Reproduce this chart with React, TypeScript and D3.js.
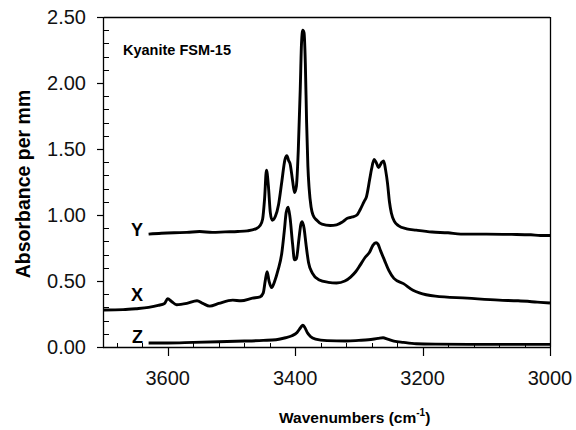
import React from "react";
import * as d3 from "d3";

const W = 576;
const H = 430;

// Wavenumbers (cm-1) and absorbance per mm for each polarization
const yWn = [3630,3610,3590,3570,3550,3530,3510,3490,3475,3462,3455,3451,3448,3445,3442,3439,3436,3431,3426,3421,3416,3413,3410,3408,3404,3401,3398,3395,3392,3390,3388,3386,3384,3382,3380,3378,3375,3372,3366,3358,3345,3335,3325,3318,3310,3303,3298,3292,3288,3283,3280,3276,3273,3269,3264,3261,3258,3255,3252,3249,3244,3238,3225,3210,3185,3160,3140,3100,3060,3030,3015,3000];
const yVal = [0.855,0.862,0.866,0.868,0.875,0.868,0.872,0.875,0.88,0.895,0.92,0.97,1.12,1.34,1.22,1.02,0.96,0.99,1.08,1.25,1.42,1.45,1.41,1.39,1.26,1.17,1.22,1.50,1.95,2.30,2.40,2.38,2.15,1.70,1.37,1.20,1.06,1.00,0.96,0.93,0.92,0.925,0.95,0.975,0.985,1.00,1.04,1.10,1.14,1.27,1.35,1.42,1.40,1.36,1.40,1.41,1.34,1.24,1.10,1.015,0.95,0.92,0.895,0.885,0.871,0.865,0.855,0.855,0.853,0.85,0.845,0.845];

const xWn = [3700,3670,3650,3630,3615,3605,3600,3594,3586,3570,3554,3545,3534,3520,3498,3485,3467,3455,3450,3447,3444,3441,3437,3432,3427,3421,3417,3414,3411,3408,3404,3401,3398,3394,3391,3389,3386,3383,3379,3373,3363,3348,3335,3322,3313,3305,3298,3290,3283,3278,3273,3270,3266,3260,3253,3245,3230,3215,3205,3180,3130,3080,3050,3020,3000];
const xVal = [0.28,0.283,0.29,0.30,0.315,0.33,0.365,0.345,0.32,0.33,0.35,0.33,0.31,0.33,0.355,0.35,0.37,0.38,0.41,0.50,0.57,0.50,0.45,0.50,0.58,0.71,0.88,1.02,1.06,0.98,0.78,0.66,0.67,0.82,0.93,0.95,0.90,0.78,0.64,0.56,0.51,0.49,0.485,0.50,0.53,0.57,0.62,0.68,0.72,0.77,0.79,0.78,0.73,0.66,0.58,0.52,0.48,0.43,0.41,0.385,0.37,0.355,0.35,0.34,0.333];

const zWn = [3630,3600,3560,3520,3480,3450,3430,3415,3405,3397,3391,3388,3385,3381,3376,3368,3350,3320,3300,3285,3270,3262,3255,3245,3230,3210,3180,3100,3050,3000];
const zVal = [0.03,0.03,0.035,0.04,0.045,0.05,0.055,0.07,0.085,0.11,0.15,0.165,0.15,0.11,0.08,0.06,0.048,0.045,0.05,0.055,0.065,0.07,0.06,0.045,0.035,0.025,0.022,0.02,0.02,0.02];

const seriesNames = ["Y", "X", "Z"];
const xTickValues = [3600, 3400, 3200, 3000];
const yTickValues = [0, 0.5, 1.0, 1.5, 2.0, 2.5];

export default function App() {
  const left = 104, right = 550, top = 17, bottom = 347;
  const x = d3.scaleLinear().domain([3700, 3000]).range([left, right]);
  const y = d3.scaleLinear().domain([0, 2.5]).range([bottom, top]);

  const line = d3
    .line<[number, number]>()
    .x((d) => x(d[0]))
    .y((d) => y(d[1]))
    .curve(d3.curveMonotoneX);

  const series = [
    { name: seriesNames[0], wn: yWn, val: yVal, lx: 143, ly: 236 },
    { name: seriesNames[1], wn: xWn, val: xVal, lx: 143, ly: 301 },
    { name: seriesNames[2], wn: zWn, val: zVal, lx: 143, ly: 343 },
  ];

  const xMinor = d3.range(3000, 3700, 40).filter((v) => !xTickValues.includes(v));
  const yMinor = d3.range(0, 2.5001, 0.1).filter(
    (v) => !yTickValues.some((t) => Math.abs(t - v) < 1e-6)
  );

  const font = "'Liberation Sans', Arial, sans-serif";

  return (
    <svg width={W} height={H} style={{ position: "absolute", left: 0, top: 0 }} fontFamily={font}>
      <rect width={W} height={H} fill="white" />
      {/* frame */}
      <line x1={left} x2={right} y1={top + 0.5} y2={top + 0.5} stroke="#000" strokeWidth={1.3} />
      <line x1={right + 0.5} x2={right + 0.5} y1={top} y2={bottom} stroke="#000" strokeWidth={1.3} />
      <line x1={left - 0.5} x2={left - 0.5} y1={top} y2={bottom + 1} stroke="#000" strokeWidth={1.3} />
      <line x1={left - 1} x2={right + 1} y1={bottom + 0.5} y2={bottom + 0.5} stroke="#000" strokeWidth={1.3} />

      {/* y ticks */}
      {yTickValues.map((t) => (
        <g key={"yt" + t}>
          <line x1={left - 7} x2={left} y1={Math.round(y(t)) + 0.5} y2={Math.round(y(t)) + 0.5} stroke="#000" strokeWidth={1.2} />
          <text x={86} y={y(t)} dy="0.36em" textAnchor="end" fontSize={20} fill="#111">
            {t.toFixed(2)}
          </text>
        </g>
      ))}
      {yMinor.map((t) => (
        <line key={"ym" + t} x1={left} x2={left + 5} y1={Math.round(y(t)) + 0.5} y2={Math.round(y(t)) + 0.5} stroke="#000" strokeWidth={1} />
      ))}

      {/* x ticks */}
      {xTickValues.map((t) => (
        <g key={"xt" + t}>
          <line x1={Math.round(x(t)) + 0.5} x2={Math.round(x(t)) + 0.5} y1={bottom} y2={bottom + 9} stroke="#000" strokeWidth={1.2} />
          <text x={x(t)} y={385} textAnchor="middle" fontSize={20} fill="#111">
            {t}
          </text>
        </g>
      ))}
      {xMinor.map((t) => (
        <line key={"xm" + t} x1={Math.round(x(t)) + 0.5} x2={Math.round(x(t)) + 0.5} y1={bottom - 4} y2={bottom} stroke="#000" strokeWidth={1} />
      ))}

      {/* curves */}
      {series.map((s) => (
        <g key={s.name}>
          <path
            d={line(s.wn.map((w, i) => [w, s.val[i]] as [number, number])) || ""}
            fill="none"
            stroke="#000"
            strokeWidth={2.9}
            strokeLinejoin="round"
          />
          <text x={s.lx} y={s.ly} textAnchor="end" fontSize={18} fontWeight="bold" fill="#000">
            {s.name}
          </text>
        </g>
      ))}

      <text x={123} y={55} fontSize={14.5} fontWeight="bold" fill="#000">
        Kyanite FSM-15
      </text>

      {/* axis titles */}
      <text x={279} y={423} fontSize={15.5} fontWeight="bold" fill="#000">
        Wavenumbers (cm<tspan fontSize={10} dy={-7}>-1</tspan>
        <tspan dy={7}>)</tspan>
      </text>
      <text
        transform={`translate(30, ${184}) rotate(-90)`}
        textAnchor="middle"
        fontSize={19.5}
        fontWeight="bold"
        fill="#000"
      >
        Absorbance per mm
      </text>
    </svg>
  );
}
